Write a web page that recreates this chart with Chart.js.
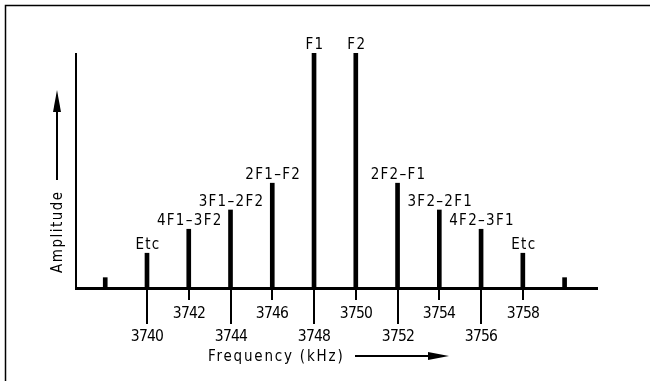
<!DOCTYPE html>
<html lang="en">
<head>
<meta charset="UTF-8">
<title>Intermodulation products</title>
<script src="https://cdn.jsdelivr.net/npm/chart.js@4.4.0/dist/chart.umd.min.js"></script>
<style>
  html, body { margin: 0; padding: 0; background: #fff; }
  #wrap { width: 650px; height: 381px; }
</style>
</head>
<body>
<div id="wrap"><canvas id="spectrum" width="650" height="381"></canvas></div>
<script>
// spectral lines (kHz) and their amplitudes, in % of F1
var freqs = [3738, 3740, 3742, 3744, 3746, 3748, 3750, 3752, 3754, 3756, 3758, 3760];
var amps = [4.4, 14.8, 25, 33.2, 44.6, 100, 100, 44.6, 33.2, 25, 14.8, 4.4];
var lineLabels = ['', 'Etc', '4F1\u20133F2', '3F1\u20132F2', '2F1\u2013F2', 'F1', 'F2',
                  '2F2\u2013F1', '3F2\u20132F1', '4F2\u20133F1', 'Etc', ''];
var tickVals = [3740, 3742, 3744, 3746, 3748, 3750, 3752, 3754, 3756, 3758];
var xTitle = 'Frequency (kHz)';
var yTitle = 'Amplitude';

var FONT = '"DejaVu Sans Condensed", "DejaVu Sans", sans-serif';

function setSpacing(ctx, px) {
  if ('letterSpacing' in ctx) ctx.letterSpacing = px + 'px';
}

// draws axes, staggered ticks, labels and arrows
var drawing = {
  id: 'drawing',
  afterDraw: function(chart) {
    var ctx = chart.ctx;
    var xs = chart.scales.x, ys = chart.scales.y;
    var area = chart.chartArea;
    var base = ys.getPixelForValue(0);
    ctx.save();
    ctx.fillStyle = '#000';
    ctx.strokeStyle = '#000';

    // frame
    ctx.lineWidth = 1.5;
    ctx.beginPath();
    ctx.moveTo(5.5, 381); ctx.lineTo(5.5, 5.5); ctx.lineTo(650, 5.5);
    ctx.stroke();

    // axes
    ctx.fillRect(area.left - 1, area.top, 2, base - area.top + 1);
    ctx.fillRect(area.left - 1, base - 1, area.right - area.left + 1, 3);

    // staggered ticks + numbers
    ctx.textAlign = 'center';
    ctx.textBaseline = 'alphabetic';
    ctx.font = '15.5px ' + FONT;
    setSpacing(ctx, -0.8);
    tickVals.forEach(function(v, i) {
      var x = Math.round(xs.getPixelForValue(v));
      var longTick = i % 2 === 0;
      var end = longTick ? 324 : 300;
      ctx.fillRect(x - 1, base, 2, end - base);
      ctx.fillText(String(v), x, longTick ? 341 : 318);
    });

    // line labels
    ctx.font = '15px ' + FONT;
    setSpacing(ctx, 1.3);
    var meta = chart.getDatasetMeta(0);
    meta.data.forEach(function(bar, i) {
      var t = lineLabels[i];
      if (!t) return;
      ctx.fillText(t, bar.x + 1, bar.y - 4);
    });

    // x title + arrow
    setSpacing(ctx, 1.8);
    ctx.textAlign = 'left';
    ctx.fillText(xTitle, 208, 361);
    ctx.fillRect(355, 355, 80, 2);
    ctx.beginPath();
    ctx.moveTo(428, 352); ctx.lineTo(449, 356); ctx.lineTo(428, 360);
    ctx.closePath(); ctx.fill();

    // y title + arrow
    ctx.save();
    ctx.translate(62, 273);
    ctx.rotate(-Math.PI / 2);
    setSpacing(ctx, 1.5);
    ctx.fillText(yTitle, 0, 0);
    ctx.restore();
    ctx.fillRect(56, 108, 2, 72);
    ctx.beginPath();
    ctx.moveTo(53, 112); ctx.lineTo(57, 90); ctx.lineTo(61, 112);
    ctx.closePath(); ctx.fill();

    ctx.restore();
  }
};

new Chart(document.getElementById('spectrum'), {
  type: 'bar',
  data: {
    datasets: [{
      data: freqs.map(function(f, i) { return { x: f, y: amps[i] }; }),
      backgroundColor: '#000',
      borderWidth: 0,
      barThickness: 4
    }]
  },
  options: {
    responsive: false,
    animation: false,
    layout: { padding: { left: 76, top: 53, right: 52, bottom: 93 } },
    plugins: { legend: { display: false }, tooltip: { enabled: false } },
    scales: {
      x: { type: 'linear', min: 3736.6, max: 3761.6, offset: false, display: false },
      y: { min: 0, max: 100, display: false }
    }
  },
  plugins: [drawing]
});
</script>
</body>
</html>
